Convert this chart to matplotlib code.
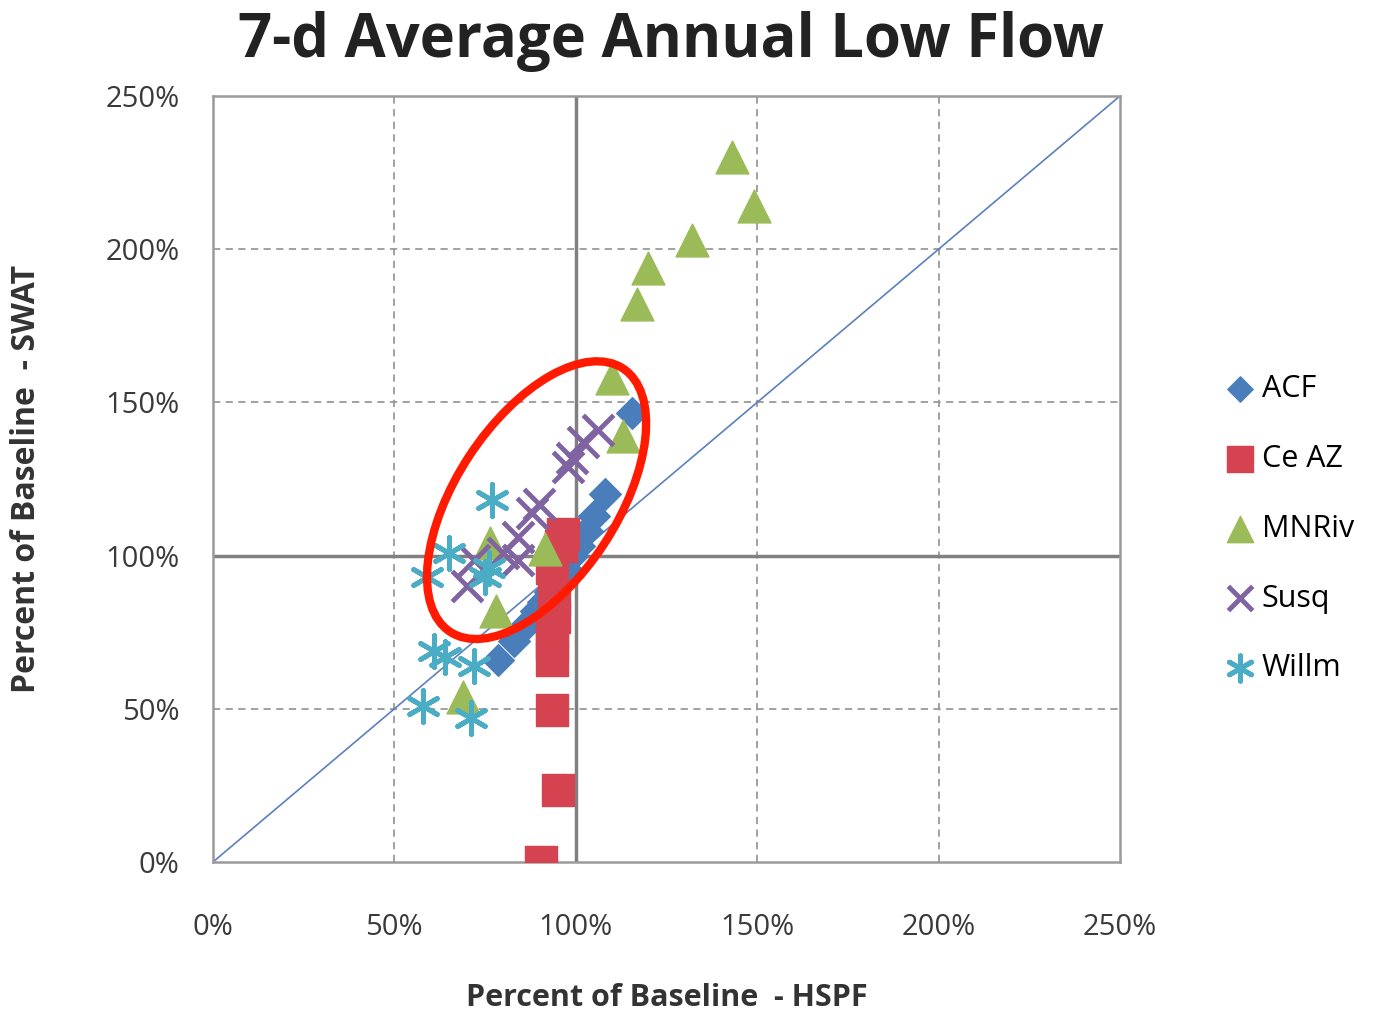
import numpy as np
import matplotlib.pyplot as plt
from matplotlib.patches import Ellipse
from matplotlib.transforms import IdentityTransform
from matplotlib.ticker import FuncFormatter

plt.rcParams['font.family'] = ['Open Sans', 'DejaVu Sans']

# values, percent of baseline
acf_x = [115.5, 108, 105, 103, 101, 99, 97, 95, 93, 91, 89, 86, 83, 78.5]
acf_y = [146.5, 120, 113, 108, 103, 100, 96, 92, 88, 85, 82, 77, 72, 66]

ceaz_x = [90.5, 95, 93.5, 93.5, 93.5, 93.5, 94, 94, 93.5, 96, 96.5]
ceaz_y = [0, 23.5, 49.5, 66, 71, 76, 80, 86, 96, 103, 107]

mnriv_x = [143, 149, 132, 120, 117, 110, 113, 91.5, 76.5, 78, 69]
mnriv_y = [230, 214, 203, 194, 182, 158, 139, 102, 104, 82, 54]

susq_x = [106, 102, 99, 98, 90, 88, 84, 80, 84, 72, 70]
susq_y = [141, 137, 132, 129, 117, 114, 106, 101, 98.5, 98.5, 90]

willm_x = [77, 65, 59, 76, 75, 61, 64, 72, 58, 71]
willm_y = [118, 101, 93, 96, 93, 69, 67, 64, 51, 47]

ticks = [0, 50, 100, 150, 200, 250]

fig = plt.figure(figsize=(13.73, 10.17), dpi=100)
ax = fig.add_axes([0.1551, 0.1524, 0.6606, 0.7532])

for t in [50, 150, 200]:
    ax.axvline(t, color='#9a9a9a', lw=1.3, ls=(0, (4, 3)), zorder=0)
    ax.axhline(t, color='#9a9a9a', lw=1.3, ls=(0, (4, 3)), zorder=0)
ax.axvline(100, color='#808080', lw=2.5, zorder=0)
ax.axhline(100, color='#808080', lw=2.5, zorder=0)
ax.plot([0, 250], [0, 250], color='#5b7fbf', lw=1.2, zorder=1)

ax.scatter(acf_x, acf_y, marker='D', s=260, color='#4a7ebb', label='ACF', zorder=3)
ax.scatter(ceaz_x, ceaz_y, marker='s', s=560, color='#d4434f', label='Ce AZ', zorder=3)
ax.scatter(mnriv_x, mnriv_y, marker='^', s=560, color='#9bbb59', label='MNRiv', zorder=4)
ax.scatter(susq_x, susq_y, marker='x', s=480, color='#8064a2', linewidths=3.5, label='Susq', zorder=4)
ax.scatter(willm_x, willm_y, marker=(6, 2, 0), s=520, color='#4bacc6', linewidths=3.5, label='Willm', zorder=4)

ax.set_xlim(0, 250)
ax.set_ylim(0, 250)
ax.set_xticks(ticks)
ax.set_yticks(ticks)
ax.xaxis.set_major_formatter(FuncFormatter(lambda v, p: '%d%%' % v))
ax.yaxis.set_major_formatter(FuncFormatter(lambda v, p: '%d%%' % v))
ax.tick_params(length=0, labelsize=21, colors='#3a3a3a')
ax.tick_params(axis='y', pad=24)
ax.tick_params(axis='x', pad=37)
for s in ax.spines.values():
    s.set_color('#9a9a9a')
    s.set_linewidth(1.8)

fig.text(671 / 1373, 1 - 41 / 1017, '7-d Average Annual Low Flow', fontsize=43,
         fontweight='bold', ha='center', va='center', color='#222222')
ax.set_xlabel('Percent of Baseline  - HSPF', fontsize=22, fontweight='bold', color='#333333')
ax.set_ylabel('Percent of Baseline  - SWAT', fontsize=23, fontweight='bold', color='#333333')
ax.xaxis.set_label_coords(0.5, -0.158)
ax.yaxis.set_label_coords(-0.187, 0.5)

ax.legend(loc='center left', bbox_to_anchor=(1.082, 0.435), frameon=False, fontsize=22,
          labelspacing=1.3, handletextpad=0.1, markerscale=0.8, handlelength=1.2)

# red highlight ellipse, drawn in pixel space so its tilt matches the picture
cx, cy = ax.transData.transform((89.2, 118.1))
ell = Ellipse((cx, cy), 315, 161, angle=56.7, fill=False, edgecolor='#ff1a00', lw=6,
              transform=IdentityTransform(), zorder=6)
fig.add_artist(ell)

fig.savefig('out.png', dpi=100)
